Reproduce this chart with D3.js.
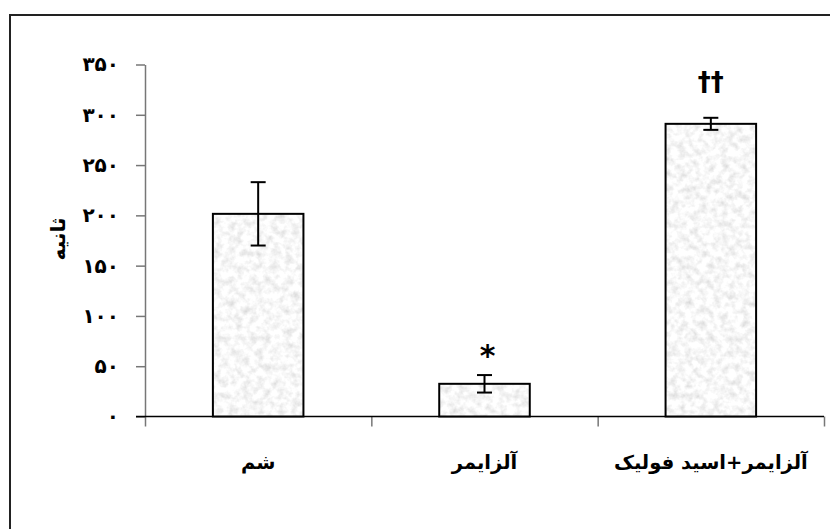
<!DOCTYPE html>
<html><head><meta charset="utf-8">
<script src="https://cdn.jsdelivr.net/npm/d3@7"></script>
<style>body{margin:0;background:#fff}svg{display:block}</style>
</head><body><svg id="c" width="830" height="529"></svg>
<script>
const categories = ['شم', 'آلزایمر', 'آلزایمر+اسید فولیک'];
const means = [201.5, 32.5, 291];
const errors = [31.5, 8.7, 6];
const marks = ['', '*', '††'];
const yTicks = [0, 50, 100, 150, 200, 250, 300, 350];
const yTickLabels = ['۰', '۵۰', '۱۰۰', '۱۵۰', '۲۰۰', '۲۵۰', '۳۰۰', '۳۵۰'];
const yTitle = 'ثانیه';

const svg = d3.select('#c');
const font = '"DejaVu Sans", sans-serif';

const defs = svg.append('defs');
const f = defs.append('filter').attr('id', 'tex').attr('x', 0).attr('y', 0).attr('width', '100%').attr('height', '100%');
f.append('feTurbulence').attr('type', 'fractalNoise').attr('baseFrequency', 0.14).attr('numOctaves', 3).attr('seed', 7).attr('result', 'n');
f.append('feColorMatrix').attr('in', 'n').attr('type', 'matrix')
  .attr('values', '0.55 0 0 0 0.66  0.55 0 0 0 0.66  0.55 0 0 0 0.66  0 0 0 0 1').attr('result', 'g');
f.append('feComposite').attr('in', 'g').attr('in2', 'SourceGraphic').attr('operator', 'in');

// outer frame
svg.append('rect').attr('x', 10).attr('y', 15).attr('width', 840).attr('height', 540)
  .attr('fill', 'none').attr('stroke', '#222').attr('stroke-width', 2);

const x = d3.scaleBand().domain(categories).range([145, 824]).paddingInner(0.6).paddingOuter(0.3);
const xb = d3.scaleLinear().domain([0, 3]).range([145, 824]);
const y = d3.scaleLinear().domain([0, 350]).range([416.5, 64.5]);

// y axis
const ya = svg.append('g').attr('transform', 'translate(145,0)')
  .call(d3.axisLeft(y).tickValues(yTicks).tickSize(9).tickSizeOuter(0).tickPadding(17)
    .tickFormat((d, i) => yTickLabels[i]));
ya.select('.domain').attr('stroke', '#777').attr('stroke-width', 1.5);
ya.selectAll('.tick line').attr('stroke', '#777').attr('stroke-width', 1.5);
ya.selectAll('.tick text').attr('font-family', font).attr('font-weight', 'bold').attr('font-size', 20).attr('fill', '#000');

// x axis
const xa = svg.append('g').attr('transform', `translate(0,${y(0)})`)
  .call(d3.axisBottom(xb).tickValues([0, 1, 2, 3]).tickSize(10).tickSizeOuter(0).tickFormat(''));
xa.select('.domain').remove();
xa.selectAll('.tick line').attr('stroke', '#777').attr('stroke-width', 1.5);
svg.append('line').attr('x1', 136).attr('x2', 824).attr('y1', y(0)).attr('y2', y(0))
  .attr('stroke', '#000').attr('stroke-width', 1.5);

const data = categories.map((c, i) => ({c, m: means[i], e: errors[i], k: marks[i]}));

// bars
svg.selectAll('rect.bar').data(data).join('rect').attr('class', 'bar')
  .attr('x', d => x(d.c)).attr('y', d => y(d.m)).attr('width', x.bandwidth()).attr('height', d => y(0) - y(d.m))
  .attr('fill', '#eee').attr('filter', 'url(#tex)');
svg.selectAll('rect.barline').data(data).join('rect').attr('class', 'barline')
  .attr('x', d => x(d.c)).attr('y', d => y(d.m)).attr('width', x.bandwidth()).attr('height', d => y(0) - y(d.m))
  .attr('fill', 'none').attr('stroke', '#000').attr('stroke-width', 2);

// error bars
const eg = svg.append('g').attr('stroke', '#000').attr('stroke-width', 2);
data.forEach(d => {
  const cx = x(d.c) + x.bandwidth() / 2;
  eg.append('line').attr('x1', cx).attr('x2', cx).attr('y1', y(d.m + d.e)).attr('y2', y(d.m - d.e));
  eg.append('line').attr('x1', cx - 7.5).attr('x2', cx + 7.5).attr('y1', y(d.m + d.e)).attr('y2', y(d.m + d.e));
  eg.append('line').attr('x1', cx - 7.5).attr('x2', cx + 7.5).attr('y1', y(d.m - d.e)).attr('y2', y(d.m - d.e));
});

// significance marks
svg.selectAll('text.mark').data(data.filter(d => d.k)).join('text').attr('class', 'mark')
  .attr('x', d => x(d.c) + x.bandwidth() / 2 + (d.k === '*' ? 3 : 0))
  .attr('y', d => y(d.m + d.e) - (d.k === '*' ? 9 : 27))
  .attr('text-anchor', 'middle').attr('font-family', font).attr('font-weight', 'bold')
  .attr('font-size', d => d.k === '*' ? 30 : 26).attr('fill', '#000').text(d => d.k);

// category labels
svg.selectAll('text.cat').data(categories).join('text').attr('class', 'cat')
  .attr('x', d => x(d) + x.bandwidth() / 2).attr('y', 469)
  .attr('text-anchor', 'middle').attr('font-family', font).attr('font-weight', 'bold')
  .attr('font-size', 19.5).attr('fill', '#000').attr('direction', 'rtl').text(d => d);

// y title
svg.append('text').attr('transform', 'translate(65,239) rotate(-90)')
  .attr('text-anchor', 'middle').attr('font-family', font).attr('font-weight', 'bold')
  .attr('font-size', 20).attr('fill', '#000').text(yTitle);
</script></body></html>
